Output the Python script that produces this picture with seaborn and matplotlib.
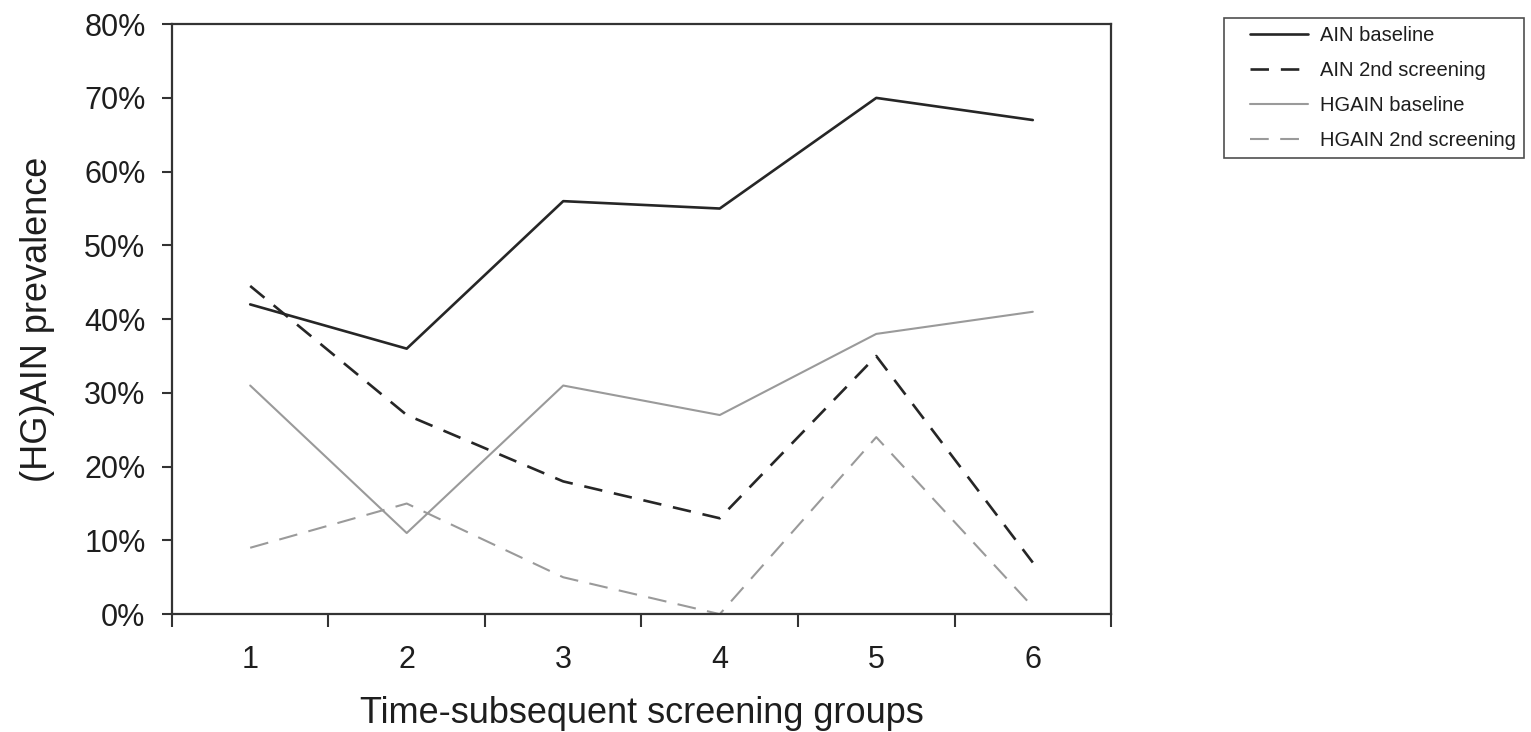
import matplotlib
matplotlib.use('Agg')
import matplotlib.pyplot as plt
import seaborn as sns
import pandas as pd
from matplotlib.ticker import FixedLocator, PercentFormatter
from matplotlib.legend_handler import HandlerLine2D

# Daten
groups = [1, 2, 3, 4, 5, 6]
ain_baseline = [42, 36, 56, 55, 70, 67]
ain_second = [44.5, 27, 18, 13, 35, 7]
hgain_baseline = [31, 11, 31, 27, 38, 41]
hgain_second = [9, 15, 5, 0, 24, 1]

series_names = ['AIN baseline', 'AIN 2nd screening', 'HGAIN baseline', 'HGAIN 2nd screening']
series_values = [ain_baseline, ain_second, hgain_baseline, hgain_second]

sns.set_style('white')
plt.rcParams['font.family'] = ['Liberation Sans', 'DejaVu Sans']

fig = plt.figure(figsize=(15.31, 7.32), dpi=100)
ax = fig.add_axes([0.1123, 0.161, 0.6134, 0.806])

styles = {
    'AIN baseline': dict(color='#262626', lw=1.9, dashes=None),
    'AIN 2nd screening': dict(color='#262626', lw=1.9, dashes=(7, 4.5)),
    'HGAIN baseline': dict(color='#9a9a9a', lw=1.5, dashes=None),
    'HGAIN 2nd screening': dict(color='#9a9a9a', lw=1.5, dashes=(9, 5.5)),
}

for name, vals in zip(series_names, series_values):
    df = pd.DataFrame({'group': groups, 'value': [v / 100 for v in vals]})
    st = styles[name]
    sns.lineplot(data=df, x='group', y='value', ax=ax, color=st['color'],
                 linewidth=st['lw'], label=name, legend=False)
    if st['dashes'] is not None:
        ax.get_lines()[-1].set_dashes(st['dashes'])

ax.set_xlim(0.5, 6.5)
ax.set_ylim(0, 0.8)
ax.set_yticks([i / 10 for i in range(9)])
ax.yaxis.set_major_formatter(PercentFormatter(1.0, decimals=0))

# Striche an den Gruppengrenzen, Beschriftung in der Mitte
ax.xaxis.set_major_locator(FixedLocator([g - 0.5 for g in groups] + [6.5]))
ax.xaxis.set_minor_locator(FixedLocator(groups))
ax.set_xticklabels([], minor=False)
ax.set_xticklabels([str(g) for g in groups], minor=True)
ax.tick_params(axis='x', which='major', direction='out', length=9, width=1.5,
               color='#333333', bottom=True)
ax.tick_params(axis='x', which='minor', length=0, pad=22, labelsize=22,
               labelcolor='#1e1e1e', bottom=True)
ax.tick_params(axis='y', direction='out', length=7, width=1.5, color='#333333',
               left=True, pad=12, labelsize=22, labelcolor='#1e1e1e')

for sp in ax.spines.values():
    sp.set_color('#333333')
    sp.set_linewidth(1.6)

ax.set_xlabel('Time-subsequent screening groups', fontsize=26, color='#1e1e1e', labelpad=15)
ax.set_ylabel('(HG)AIN prevalence', fontsize=26, color='#1e1e1e', labelpad=21)

handles = ax.get_lines()
leg = fig.legend(handles, series_names, loc='upper left',
                 bbox_to_anchor=(1224 / 1531, 1 - 18 / 732), fontsize=14.5,
                 frameon=True, fancybox=False, edgecolor='#222222',
                 handlelength=3.78, handletextpad=0.6, labelspacing=0.8,
                 borderpad=0.4, borderaxespad=0,
                 handler_map={h: HandlerLine2D(xpad=0.9) for h in handles})
leg.get_frame().set_linewidth(1.2)
for t in leg.get_texts():
    t.set_color('#1e1e1e')

fig.savefig('out.png', dpi=100)
